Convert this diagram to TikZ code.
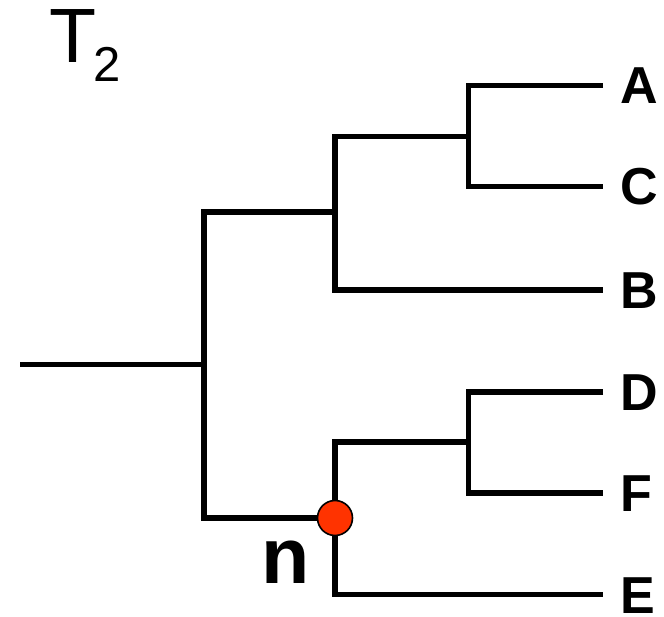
\documentclass[tikz,border=0pt]{standalone}
\usepackage{fontspec}
\setmainfont{Liberation Sans}
\definecolor{nodered}{RGB}{255,51,0}
\begin{document}
\begin{tikzpicture}[x=1pt,y=-1pt,
  branch/.style={line width=5.2pt,line join=miter,line cap=butt},
  leaf/.style={anchor=west,inner xsep=17pt,inner ysep=0pt,text height=37pt,text depth=0pt,
    font=\fontsize{52}{52}\selectfont\bfseries},
  marknode/.style={circle,draw=black,line width=1.6pt,fill=nodered,minimum size=35pt,inner sep=0pt}]
\useasboundingbox (0,0) rectangle (664,617);
% leaves
\node[leaf] (A) at (603,85.5) {A};
\node[leaf] (C) at (603,186.5) {C};
\node[leaf] (B) at (603,290) {B};
\node[leaf] (D) at (603,392) {D};
\node[leaf] (F) at (603,493) {F};
\node[leaf] (E) at (603,594.5) {E};
% internal points
\coordinate (nAC) at (468.5,136.5);
\coordinate (nACB) at (335,212);
\coordinate (nR) at (204,364.5);
\coordinate (nDF) at (468.5,442);
\coordinate (nDFE) at (335,518);
\coordinate (rootend) at (20,364.5);
% branches
\draw[branch] (A.west) -| (nAC) |- (C.west);
\draw[branch] (nAC) -| (nACB) |- (B.west);
\draw[branch] (D.west) -| (nDF) |- (F.west);
\draw[branch] (nDF) -| (nDFE) |- (E.west);
\draw[branch] (nACB) -| (nR) |- (nDFE);
\draw[branch] (rootend) -- (nR);
% marked node
\node[marknode] (mark) at (nDFE) {};
\node[anchor=base west,inner sep=0pt,font=\fontsize{79}{79}\selectfont\bfseries] (nlabel) at (261,583) {n};
% title
\node[anchor=base west,inner sep=0pt,font=\fontsize{77}{77}\selectfont] (Tlabel) at (49,63) {T};
\node[anchor=base west,inner sep=0pt,font=\fontsize{49}{49}\selectfont] (Tsub) at (93,82) {2};
\end{tikzpicture}
\end{document}
